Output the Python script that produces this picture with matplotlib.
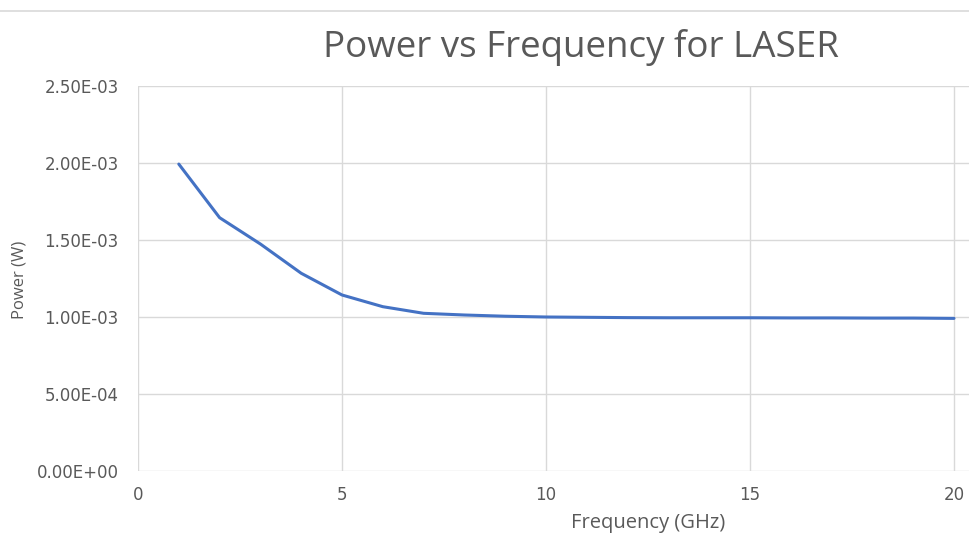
import matplotlib
matplotlib.use("Agg")
import matplotlib.pyplot as plt
from matplotlib.ticker import FuncFormatter, MultipleLocator
from matplotlib.lines import Line2D

# data
freq_ghz = [1, 2, 3, 4, 5, 6, 7, 8, 9, 10, 11, 12, 13, 14, 15, 16, 17, 18, 19, 20]
power_w = [1.993e-3, 1.645e-3, 1.474e-3, 1.284e-3, 1.143e-3, 1.067e-3, 1.024e-3,
           1.013e-3, 1.005e-3, 1.000e-3, 0.998e-3, 0.996e-3, 0.995e-3, 0.995e-3,
           0.995e-3, 0.994e-3, 0.994e-3, 0.993e-3, 0.993e-3, 0.991e-3]

plt.rcParams['font.family'] = ['Open Sans', 'DejaVu Sans']

W, H = 969, 536
fig = plt.figure(figsize=(W / 100, H / 100), dpi=100)
ax = fig.add_axes([138 / W, (H - 471) / H, (W - 138) / W, (471 - 86) / H])

ax.plot(freq_ghz, power_w, color='#4472C4', linewidth=2.2, solid_capstyle='round',
        solid_joinstyle='round')

ax.set_xlim(0, (W - 138) / 40.8)
ax.set_ylim(0, 2.5e-3)
ax.xaxis.set_major_locator(MultipleLocator(5))
ax.yaxis.set_major_locator(MultipleLocator(5e-4))
ax.yaxis.set_major_formatter(FuncFormatter(lambda v, p: f"{v:.2E}"))

ax.grid(True, color='#d9d9d9', linewidth=1)
ax.set_axisbelow(True)
for s in ax.spines.values():
    s.set_visible(False)
ax.tick_params(length=0, labelsize=12, colors='#595959')
for lbl in ax.get_xticklabels() + ax.get_yticklabels():
    lbl.set_family('DejaVu Sans')
ax.tick_params(axis='x', pad=11)
ax.tick_params(axis='y', pad=14)

fig.text(581 / W, 1 - 47 / H, 'Power vs Frequency for LASER', ha='center', va='center',
         fontsize=26.5, color='#595959')
fig.text(648 / W, 1 - 523 / H, 'Frequency (GHz)', ha='center', va='center',
         fontsize=14.5, color='#595959')
fig.text(19 / W, 1 - 280 / H, 'Power (W)', ha='center', va='center', rotation=90,
         fontsize=12, color='#595959')

fig.add_artist(Line2D([0, 1], [1 - 10.5 / H, 1 - 10.5 / H], color='#d9d9d9', linewidth=1.2))

fig.savefig('out.png', dpi=100)
